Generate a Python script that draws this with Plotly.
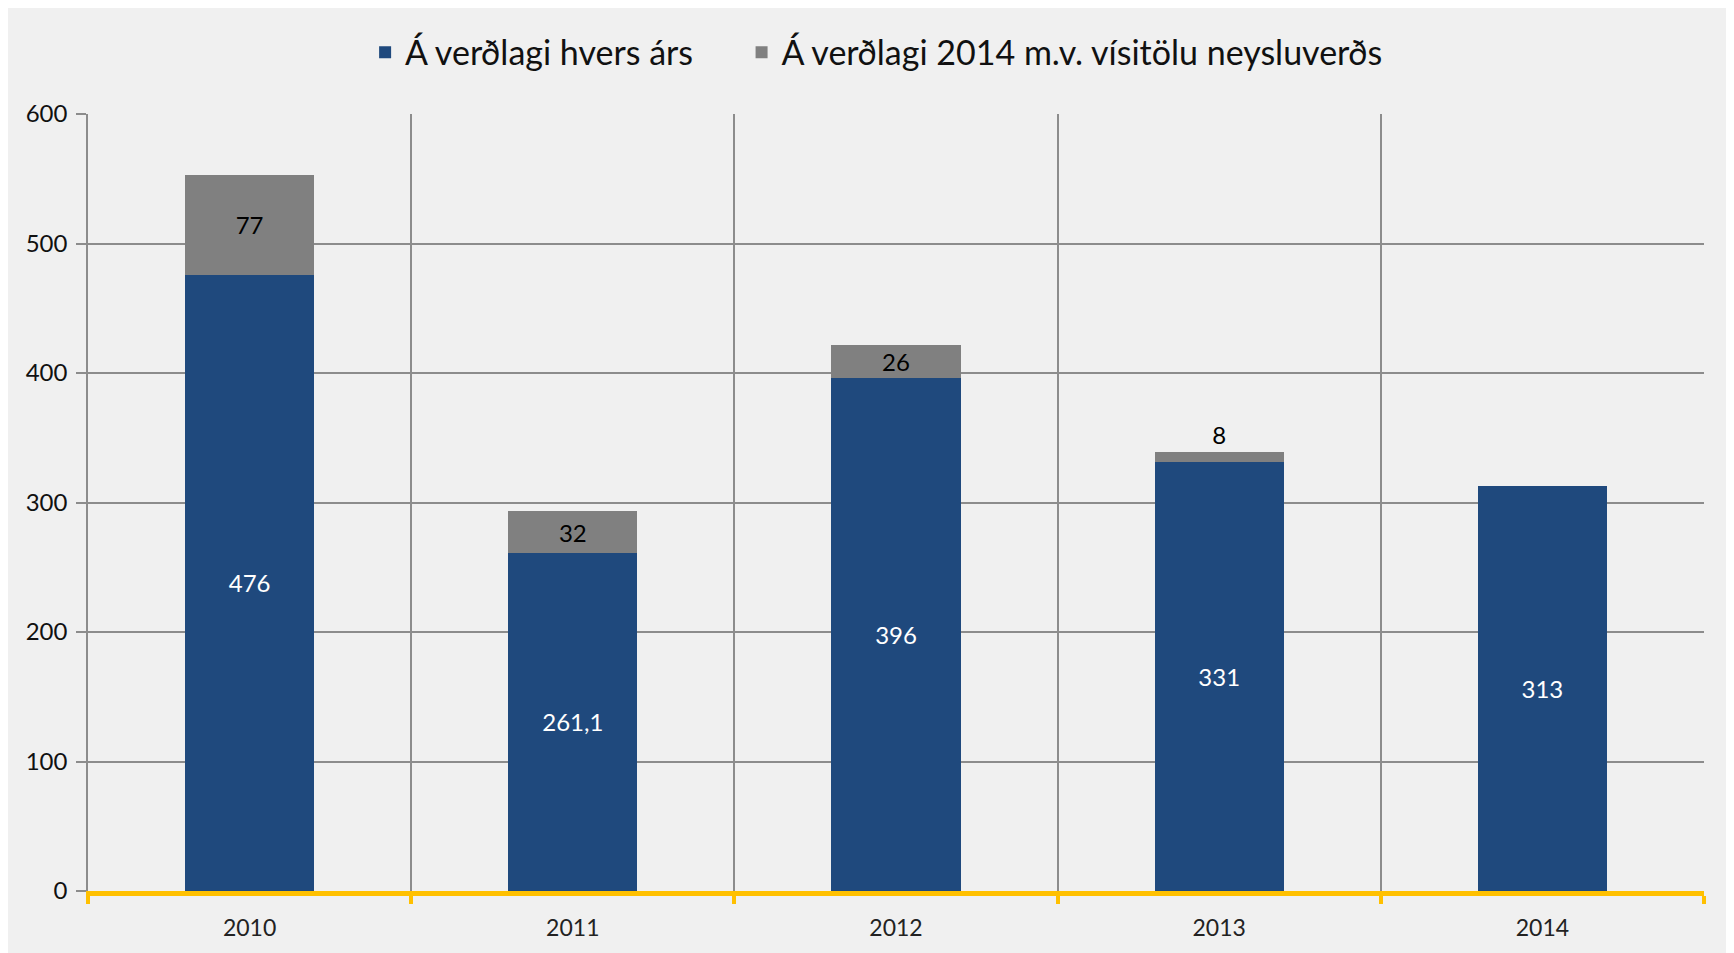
import plotly.graph_objects as go

# Gögn
ar = ["2010", "2011", "2012", "2013", "2014"]
hvers_ars = [476, 261.1, 396, 331, 313]
verdlag_2014 = [77, 32, 26, 8, 0]
merki_blatt = ["476", "261,1", "396", "331", "313"]
merki_gratt = ["77", "32", "26", "8", ""]

BLUE = "#1F497D"
GREY = "#808080"
BG = "#F0F0F0"
GRID = "#8C8C8C"
FONT = "Lato"

x = list(range(len(ar)))

fig = go.Figure()
fig.add_trace(go.Bar(
    x=x, y=hvers_ars, name="Á verðlagi hvers árs" + "\u00a0" * 5,
    marker=dict(color=BLUE, line=dict(width=0)),
    text=merki_blatt, textposition="inside", insidetextanchor="middle",
    textfont=dict(color="white", size=24, family=FONT),
    width=0.4, hoverinfo="skip",
))
fig.add_trace(go.Bar(
    x=x, y=verdlag_2014, name="Á verðlagi 2014 m.v. vísitölu neysluverðs",
    marker=dict(color=GREY, line=dict(width=0)),
    text=merki_gratt,
    textposition=["inside", "inside", "inside", "outside", "none"],
    insidetextanchor="middle",
    textfont=dict(color="black", size=24, family=FONT),
    width=0.4, hoverinfo="skip",
))

fig.update_traces(constraintext="none", cliponaxis=False, textangle=0)

fig.update_layout(
    width=1734, height=953,
    barmode="stack",
    paper_bgcolor=BG, plot_bgcolor=BG,
    margin=dict(l=80, r=38, t=106, b=70, autoexpand=False),
    font=dict(family=FONT, size=23, color="#222222"),
    legend=dict(orientation="h", x=0.488, xanchor="center", y=1.079, yanchor="middle",
                font=dict(size=34, color="#111111"), itemwidth=30,
                traceorder="normal", bgcolor="rgba(0,0,0,0)"),
    showlegend=True,
)

fig.update_xaxes(
    range=[-0.5, 4.5], tickmode="array", tickvals=x, ticktext=ar,
    showgrid=False, ticks="", zeroline=False,
    showline=True, linecolor="#FFC000", linewidth=5,
    tickfont=dict(size=23, color="#222222"), ticklabelstandoff=12,
    minor=dict(tickmode="linear", tick0=-0.5, dtick=1, showgrid=True,
               gridcolor=GRID, gridwidth=1.5, ticks="outside",
               ticklen=8, tickwidth=4, tickcolor="#FFC000"),
)
fig.update_yaxes(
    range=[0, 600], dtick=100, showgrid=True, gridcolor=GRID, gridwidth=1.5,
    zeroline=False, showline=True, linecolor=GRID, linewidth=1.5,
    ticks="outside", ticklen=10, tickcolor=GRID, tickwidth=1.5,
    tickfont=dict(size=24, color="#111111"), ticklabelstandoff=4,
)

fig.write_html("out.html")
